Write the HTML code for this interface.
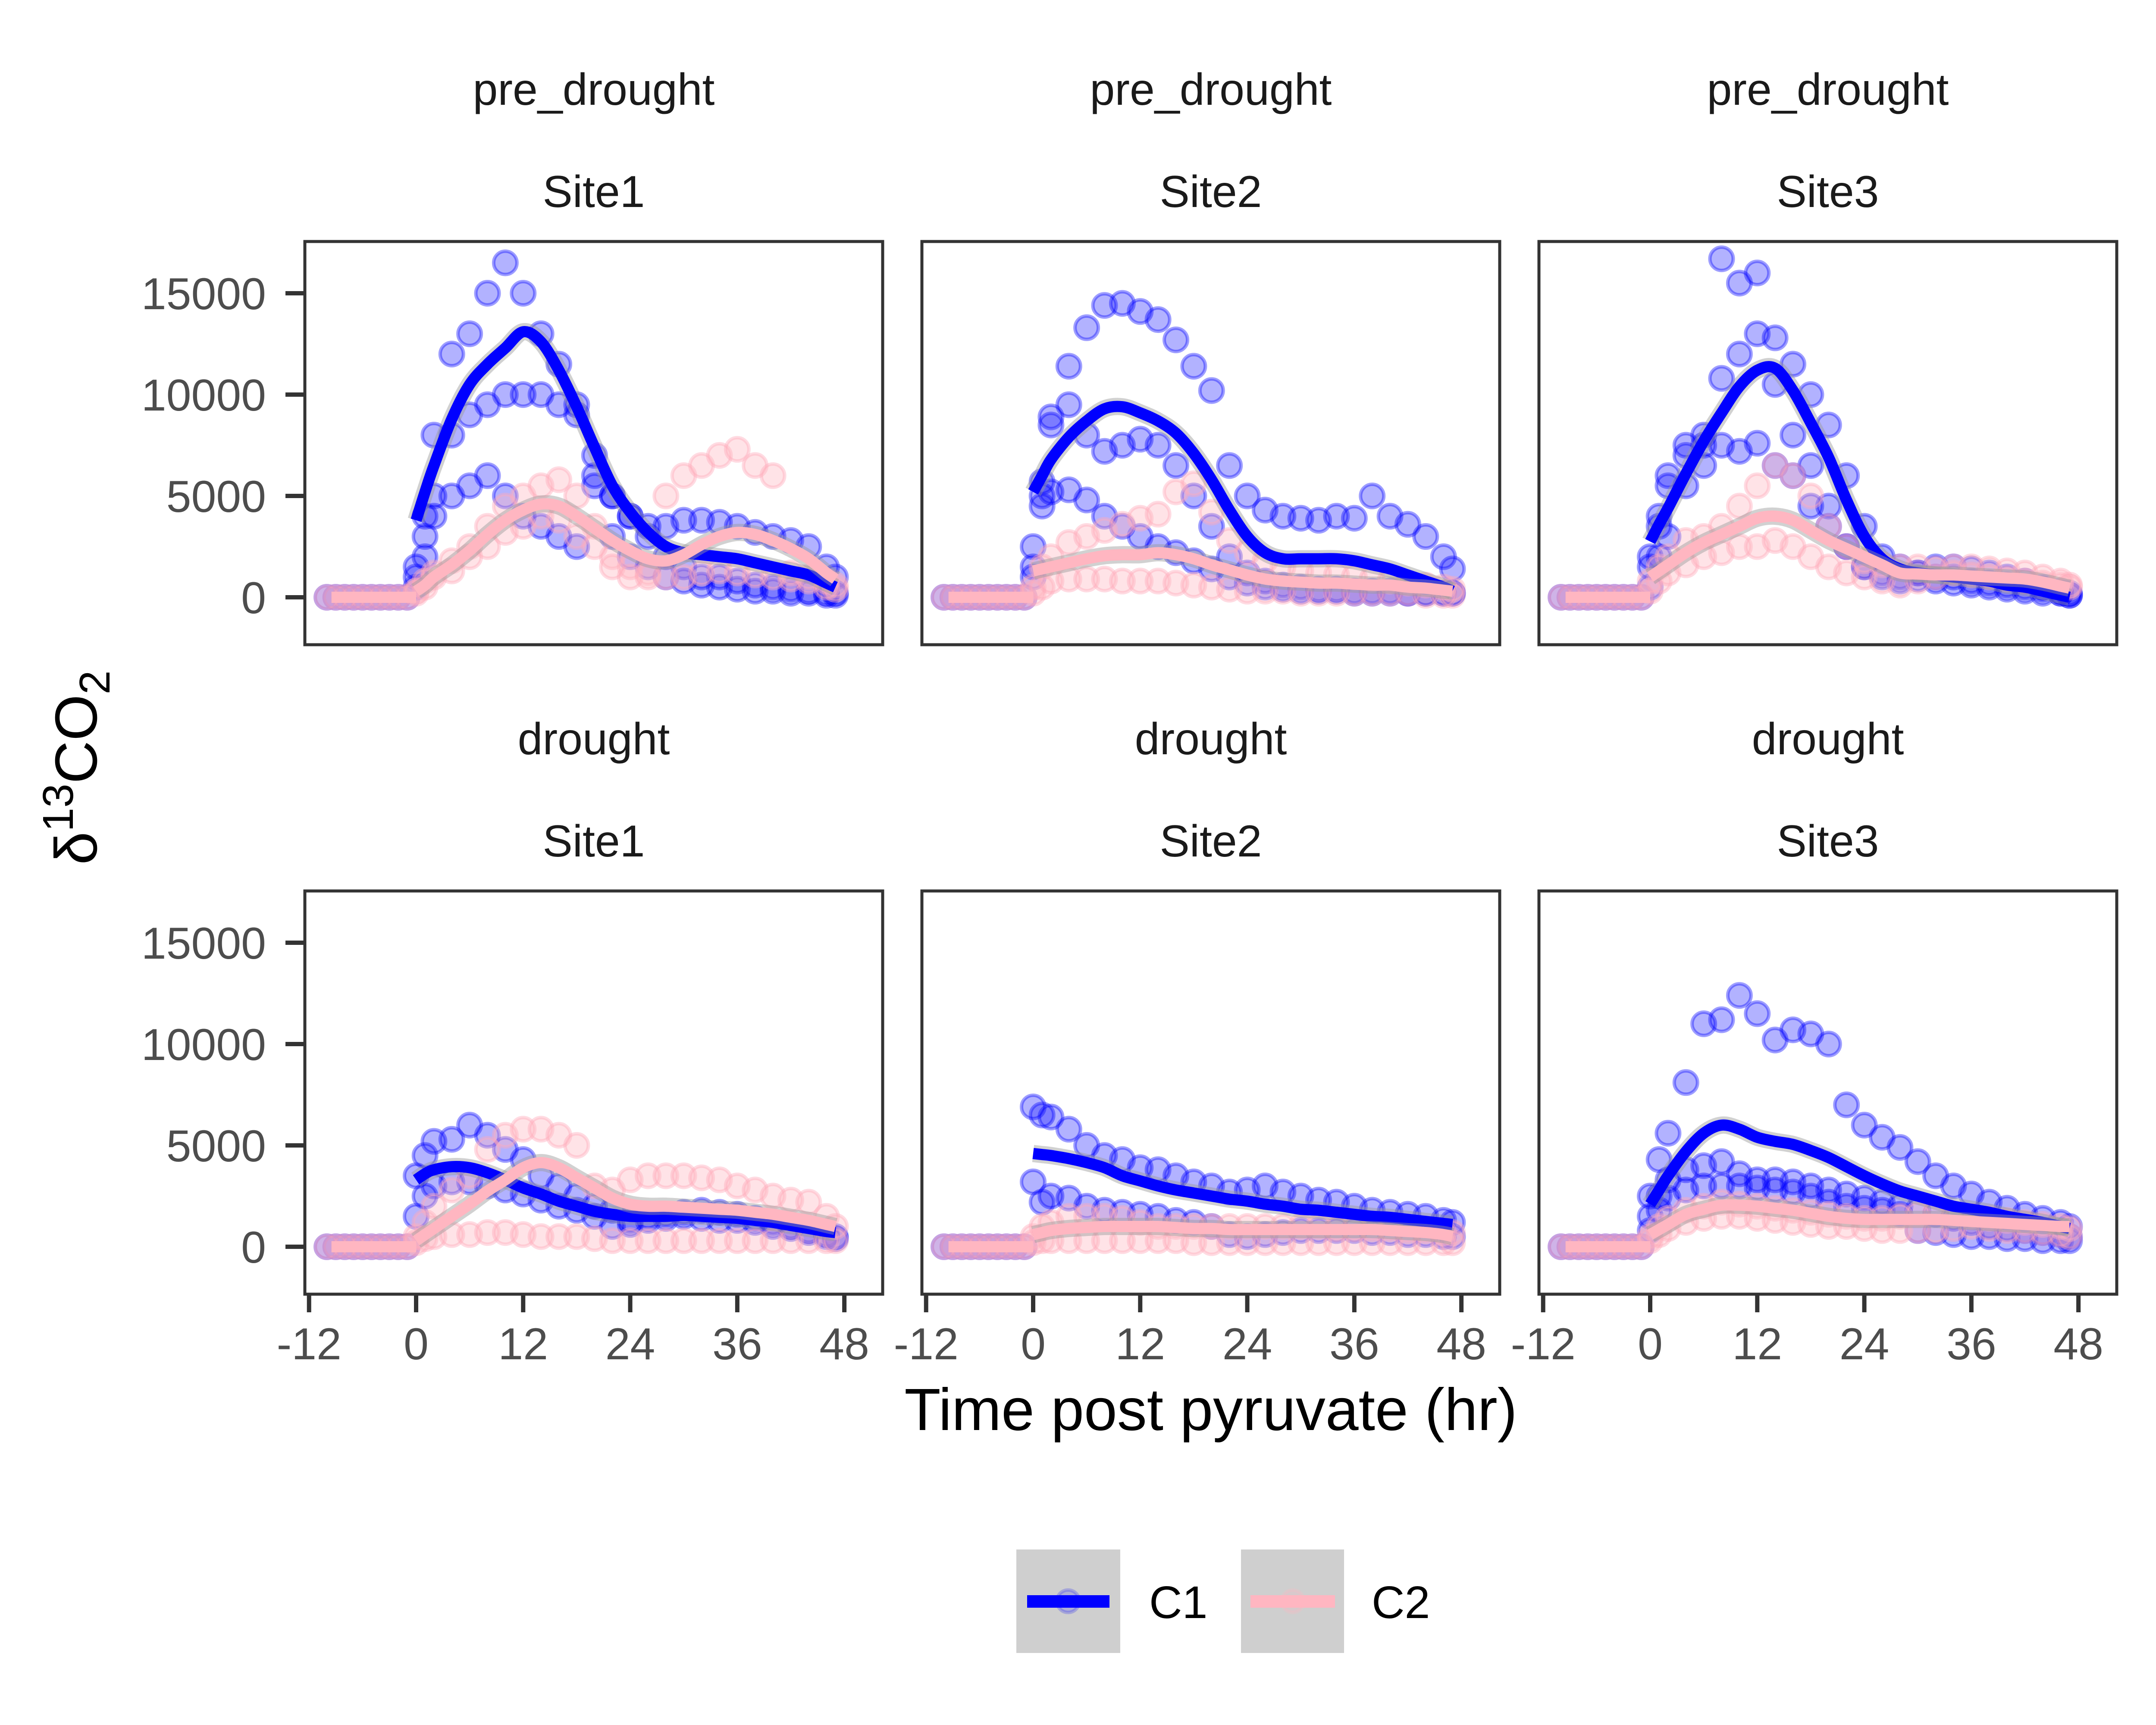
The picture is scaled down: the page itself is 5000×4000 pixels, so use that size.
<!DOCTYPE html>
<html><head><meta charset="utf-8"><style>
html,body{margin:0;padding:0;background:#fff;}
svg{display:block;font-family:"Liberation Sans",Arial,sans-serif;}
</style></head><body>
<svg id="chart" xmlns="http://www.w3.org/2000/svg" width="5000" height="4000" viewBox="0 0 5000 4000">
<rect x="0" y="0" width="5000" height="4000" fill="#fff"/>
<g id="panels"></g>
<g id="texts">
<text x="2808" y="3316" font-size="138" text-anchor="middle" fill="#000">Time post pyruvate (hr)</text>
<text transform="translate(224,1780) rotate(-90)" font-size="138" text-anchor="middle" fill="#000">δ<tspan font-size="100" dy="-55">13</tspan><tspan dy="55">CO</tspan><tspan font-size="100" dy="30">2</tspan></text>
</g>
<g id="legend">
<g>
<rect x="2357" y="3593" width="241" height="240" fill="#CFCFCF"/>
<circle cx="2477" cy="3713" r="26" fill="rgba(0,0,255,0.15)" stroke="rgba(0,0,255,0.2)" stroke-width="8"/>
<rect x="2382" y="3699" width="191" height="29" fill="#0000FF"/>
<text x="2665" y="3752" font-size="106" fill="#000">C1</text>
</g>
<g>
<rect x="2878" y="3593" width="239" height="240" fill="#CFCFCF"/>
<circle cx="2998" cy="3713" r="26" fill="rgba(255,182,193,0.2)" stroke="rgba(255,182,193,0.25)" stroke-width="8"/>
<rect x="2900" y="3699" width="196" height="29" fill="#FFB6C1"/>
<text x="3181" y="3752" font-size="106" fill="#000">C2</text>
</g>
</g>
</svg>
<script>
// time grid (hours) shared by all traces after pyruvate
const H = [0,1,2,4,6,8,10,12,14,16,18,20,22,24,26,28,30,32,34,36,38,40,42,44,46,47];
const baseT = [-10,-9,-8,-7,-6,-5,-4,-3,-2,-1];
const baseV = [0,0,0,0,0,0,0,0,0,0];
const xTicks = [-12,0,12,24,36,48];
const yTicks = [0,5000,10000,15000];
const periods = ["pre_drought","drought"];
const sites = ["Site1","Site2","Site3"];

// values in thousands
const p1c1a = [1.5,4,8,12,13,15,16.5,15,13,11.5,9.5,7,5,4,3.5,2,1.5,1,1,0.8,0.6,0.5,0.4,0.3,0.2,0.2];
const p1c1b = [1,3,5,8,9,9.5,10,10,10,9.5,9,6,3,2,1.5,1,0.8,0.6,0.5,0.4,0.3,0.3,0.2,0.2,0.1,0.1];
const p1c1c = [0.5,2,4,5,5.5,6,5,4,3.5,3,2.5,5.5,5,4,3,3.5,3.8,3.8,3.7,3.5,3.2,3,2.8,2.5,1.5,1];
const p1c2a = [0.3,0.8,1.2,1.8,2.5,3.5,4.5,5,5.5,5.8,5,3.5,2,1.5,1.2,5,6,6.5,7,7.3,6.5,6,1.2,1,0.8,0.6];
const p1c2b = [0.2,0.5,1,1.3,2,2.5,3.2,3.5,4,3.8,3,2.5,1.5,1,1,1,1,1.2,1.3,1.2,1.1,1,0.9,0.8,0.5,0.4];
const p1s1 = [3.8,5.2,6.5,8.8,10.5,11.5,12.3,13.1,12.6,11.2,9.4,7.4,5.5,4.2,3.2,2.5,2.2,2.1,2.0,1.9,1.7,1.5,1.3,1.1,0.7,0.5];
const p1s2 = [0.3,0.6,1.0,1.6,2.3,3.1,3.8,4.3,4.6,4.5,4.0,3.4,2.8,2.3,1.9,1.8,2.1,2.6,3.0,3.2,3.1,2.8,2.4,1.9,1.2,0.9];

const p2c1a = [2.5,5.7,8.9,11.4,13.3,14.4,14.5,14.1,13.7,12.7,11.4,10.2,6.5,5.0,4.3,4.0,3.9,3.8,4.0,3.9,5.0,4.0,3.6,3.0,2.0,1.4];
const p2c1b = [1.5,5.0,8.5,9.5,8.0,7.2,7.5,7.8,7.5,6.5,5.0,3.5,2.0,1.2,0.8,0.6,0.5,0.4,0.4,0.3,0.3,0.3,0.2,0.2,0.2,0.2];
const p2c1c = [1.0,4.5,5.2,5.3,4.8,4.0,3.5,3.0,2.5,2.2,1.8,1.4,1.0,0.7,0.5,0.4,0.3,0.3,0.3,0.2,0.2,0.2,0.2,0.2,0.2,0.2];
const p2c2a = [0.5,1.5,2.0,2.7,3.0,3.3,3.6,3.9,4.1,5.2,5.6,4.2,2.8,2.2,1.8,1.5,1.3,1.2,1.1,1.0,0.9,0.8,0.7,0.6,0.5,0.4];
const p2c2b = [0.2,0.5,0.8,0.9,0.9,0.9,0.8,0.8,0.8,0.7,0.6,0.5,0.4,0.3,0.3,0.3,0.2,0.2,0.2,0.2,0.2,0.2,0.2,0.1,0.1,0.1];
const p2s1 = [5.2,6.0,6.8,7.9,8.7,9.3,9.4,9.1,8.7,8.1,7.1,5.8,4.3,3.0,2.2,1.9,1.9,1.9,1.9,1.8,1.6,1.4,1.1,0.8,0.5,0.3];
const p2s2 = [1.3,1.4,1.5,1.7,1.9,2.05,2.1,2.1,2.2,2.1,1.9,1.6,1.35,1.1,0.9,0.8,0.75,0.7,0.7,0.65,0.6,0.6,0.5,0.45,0.35,0.3];

const p3c1a = [2.0,3.5,5.5,7.5,8.0,16.7,15.5,16.0,12.8,11.5,10.0,8.5,6.0,3.5,2.0,1.5,1.2,1.0,1.0,0.8,0.7,0.6,0.5,0.4,0.3,0.2];
const p3c1b = [1.5,4,6,7,7.5,10.8,12,13,10.5,8,6.5,4.5,2.5,1.5,1.2,1.0,0.9,0.8,0.7,0.6,0.5,0.4,0.3,0.2,0.2,0.1];
const p3c1c = [0.5,2,3,5.5,6.5,7.5,7.2,7.6,6.5,6,4.5,3.5,2.5,1.5,1.0,0.8,1.2,1.5,1.5,1.4,1.2,1.0,0.8,0.5,0.2,0.1];
const p3c2a = [0.8,1.5,2.0,2.8,3.0,3.5,4.5,5.5,6.5,6.0,5.0,3.5,2.5,1.8,1.6,1.5,1.5,1.4,1.5,1.5,1.4,1.3,1.2,1.0,0.8,0.6];
const p3c2b = [0.3,0.8,1.2,1.6,2,2.2,2.5,2.5,2.8,2.5,2.0,1.5,1.2,1.0,0.8,0.6,0.8,1.0,1.2,1.1,1.0,0.9,0.8,0.7,0.6,0.5];
const p3s1 = [2.75,3.6,4.4,6.1,7.7,9.1,10.4,11.2,11.3,10.2,8.6,6.9,4.8,3.0,1.9,1.4,1.2,1.1,1.0,0.9,0.8,0.6,0.5,0.3,0.1,0.0];
const p3s2 = [1.0,1.3,1.6,2.2,2.7,3.1,3.5,3.9,4.0,3.8,3.3,2.8,2.4,2.0,1.6,1.2,1.15,1.1,1.1,1.05,1.0,0.95,0.9,0.75,0.55,0.45];

const p4c1a = [3.5,4.5,5.2,5.3,6.0,5.5,4.8,4.3,3.5,3.0,2.5,2.0,1.8,1.3,1.5,1.6,1.7,1.8,1.7,1.6,1.4,1.2,1.0,0.8,0.6,0.5];
const p4c1b = [1.5,2.5,3.0,3.2,3.2,3.0,2.8,2.6,2.3,2.0,1.8,1.5,1.0,1.1,1.3,1.4,1.5,1.4,1.3,1.3,1.2,1.0,0.9,0.7,0.5,0.4];
const p4c2a = [0.5,1.2,2.0,2.8,3.5,4.8,5.5,5.8,5.8,5.5,5.0,3.0,2.8,3.3,3.5,3.5,3.5,3.4,3.3,3.0,2.8,2.5,2.3,2.2,1.5,1.0];
const p4c2b = [0.2,0.4,0.5,0.6,0.6,0.7,0.7,0.6,0.5,0.5,0.5,0.4,0.3,0.3,0.3,0.3,0.3,0.3,0.3,0.3,0.3,0.3,0.3,0.3,0.3,0.3];
const p4s1 = [3.3,3.6,3.8,3.95,3.9,3.65,3.3,2.9,2.6,2.25,2.0,1.75,1.6,1.5,1.5,1.5,1.55,1.5,1.45,1.4,1.3,1.2,1.05,0.9,0.75,0.7];
const p4s2 = [0.3,0.6,0.9,1.5,2.1,2.75,3.3,3.9,4.15,3.9,3.4,2.9,2.4,2.1,2.0,2.0,1.95,1.9,1.85,1.8,1.7,1.6,1.45,1.3,1.1,1.0];

const p5c1a = [6.9,6.5,6.4,5.8,5.0,4.5,4.3,3.9,3.8,3.5,3.2,3.0,2.7,2.8,3.0,2.7,2.5,2.3,2.2,2.0,1.8,1.7,1.6,1.5,1.3,1.2];
const p5c1b = [3.2,2.2,2.5,2.4,2.0,1.8,1.7,1.6,1.5,1.3,1.2,1.0,0.6,0.5,0.6,0.7,0.8,0.8,0.8,0.8,0.7,0.7,0.6,0.6,0.5,0.5];
const p5c2a = [0.5,1.0,1.2,1.5,1.5,1.5,1.4,1.2,1.0,1.0,1.0,1.0,1.0,1.0,1.0,1.0,1.0,1.0,0.9,0.9,0.9,0.9,0.8,0.8,0.7,0.7];
const p5c2b = [0.2,0.3,0.3,0.3,0.3,0.3,0.3,0.3,0.3,0.3,0.2,0.2,0.2,0.2,0.2,0.2,0.2,0.2,0.2,0.2,0.2,0.2,0.2,0.2,0.2,0.2];
const p5s1 = [4.6,4.55,4.5,4.35,4.15,3.9,3.5,3.25,3.0,2.8,2.65,2.5,2.35,2.25,2.1,2.0,1.85,1.8,1.7,1.6,1.5,1.45,1.35,1.25,1.15,1.1];
const p5s2 = [0.6,0.7,0.8,0.9,0.95,1.0,1.0,1.0,1.0,0.95,0.9,0.9,0.85,0.85,0.85,0.85,0.85,0.85,0.85,0.85,0.85,0.8,0.75,0.7,0.6,0.5];

const p6c1a = [2.5,4.3,5.6,8.1,11.0,11.2,12.4,11.5,10.2,10.7,10.5,10.0,7.0,6.0,5.4,4.9,4.2,3.5,3.0,2.6,2.2,1.9,1.6,1.4,1.2,1.0];
const p6c1b = [1.5,2.5,3.3,3.8,4.0,4.2,3.6,3.3,3.3,3.2,3.0,2.8,2.6,2.4,2.2,2.0,1.8,1.6,1.4,1.2,1.0,0.9,0.8,0.7,0.6,0.5];
const p6c1c = [0.8,1.8,2.4,2.8,3.0,3.0,3.0,2.9,2.8,2.7,2.5,2.2,2.0,1.9,1.8,1.6,0.8,0.7,0.6,0.5,0.5,0.4,0.4,0.3,0.3,0.3];
const p6c2a = [0.5,1.0,1.4,1.8,2.0,2.2,2.1,2.0,1.9,1.8,1.7,1.6,1.5,1.4,1.4,1.5,1.6,1.7,1.6,1.5,1.4,1.3,1.2,1.1,1.0,0.9];
const p6c2b = [0.3,0.6,0.9,1.2,1.4,1.5,1.5,1.4,1.3,1.2,1.1,1.0,1.0,0.9,0.8,0.8,0.8,0.8,0.9,1.0,0.9,0.8,0.8,0.7,0.6,0.5];
const p6s1 = [2.1,2.8,3.5,4.7,5.6,6.0,5.8,5.4,5.2,5.05,4.75,4.4,3.95,3.5,3.1,2.75,2.5,2.25,2.0,1.85,1.7,1.5,1.35,1.2,1.0,0.9];
const p6s2 = [0.6,0.85,1.1,1.6,1.85,2.05,2.05,2.0,1.9,1.8,1.65,1.5,1.4,1.35,1.35,1.35,1.35,1.35,1.3,1.25,1.2,1.15,1.1,1.05,1.0,1.0];

const panelDefs = [
  {row:0,col:0,c1:[p1c1a,p1c1b,p1c1c],c2:[p1c2a,p1c2b],s1:p1s1,s2:p1s2},
  {row:0,col:1,c1:[p2c1a,p2c1b,p2c1c],c2:[p2c2a,p2c2b],s1:p2s1,s2:p2s2},
  {row:0,col:2,c1:[p3c1a,p3c1b,p3c1c],c2:[p3c2a,p3c2b],s1:p3s1,s2:p3s2},
  {row:1,col:0,c1:[p4c1a,p4c1b],c2:[p4c2a,p4c2b],s1:p4s1,s2:p4s2},
  {row:1,col:1,c1:[p5c1a,p5c1b],c2:[p5c2a,p5c2b],s1:p5s1,s2:p5s2},
  {row:1,col:2,c1:[p6c1a,p6c1b,p6c1c],c2:[p6c2a,p6c2b],s1:p6s1,s2:p6s2}
];

const NS = "http://www.w3.org/2000/svg";
const PW = 1340, PH = 935;
function pLeft(c){ return 707 + c*1431; }
function pTop(r){ return 560 + r*1506; }
function xs(c,h){ return pLeft(c) + 258 + 20.69*h; }
function ys(r,vk){ return pTop(r) + 825 - 47*vk; }
function mk(tag, attrs, parent){
  const e = document.createElementNS(NS, tag);
  for (const k in attrs) e.setAttribute(k, attrs[k]);
  parent.appendChild(e);
  return e;
}
function smoothPath(pts){
  let d = "M" + pts[0][0].toFixed(1) + "," + pts[0][1].toFixed(1);
  for (let i=0;i<pts.length-1;i++){
    const p0 = pts[i-1]||pts[i], p1 = pts[i], p2 = pts[i+1], p3 = pts[i+2]||p2;
    const c1x = p1[0]+(p2[0]-p0[0])/6, c1y = p1[1]+(p2[1]-p0[1])/6;
    const c2x = p2[0]-(p3[0]-p1[0])/6, c2y = p2[1]-(p3[1]-p1[1])/6;
    d += " C"+c1x.toFixed(1)+","+c1y.toFixed(1)+" "+c2x.toFixed(1)+","+c2y.toFixed(1)+" "+p2[0].toFixed(1)+","+p2[1].toFixed(1);
  }
  return d;
}
const root = document.getElementById("panels");
const BLUE_F = "rgba(0,0,255,0.3)", BLUE_S = "rgba(0,0,255,0.38)";
const PINK_F = "rgba(255,182,193,0.38)", PINK_S = "rgba(255,170,185,0.42)";

panelDefs.forEach(function(p, idx){
  const g = mk("g", {}, root);
  
  
  const L = pLeft(p.col), T = pTop(p.row);
  const clipId = "clip"+idx;
  const cp = mk("clipPath", {id: clipId}, g);
  mk("rect", {x:L, y:T, width:PW, height:PH}, cp);
  const plot = mk("g", {"clip-path":"url(#"+clipId+")"}, g);
  
  

  function drawPoints(vals, fill, stroke, name){
    for (let i=0;i<vals.length;i++){
      const c = mk("circle", {cx:xs(p.col,H[i]), cy:ys(p.row,vals[i]), r:27, fill:fill, stroke:stroke, "stroke-width":8}, plot);
      
      
    }
  }
  function drawBase(fill, stroke, name){
    for (let i=0;i<baseT.length;i++){
      const c = mk("circle", {cx:xs(p.col,baseT[i]), cy:ys(p.row,baseV[i]), r:27, fill:fill, stroke:stroke, "stroke-width":8}, plot);
      
      
    }
  }
  drawBase(BLUE_F, BLUE_S, 'point-c1');
  p.c1.forEach(function(tr){ drawPoints(tr, BLUE_F, BLUE_S, 'point-c1'); });
  drawBase(PINK_F, PINK_S, 'point-c2');
  p.c2.forEach(function(tr){ drawPoints(tr, PINK_F, PINK_S, 'point-c2'); });

  function drawSmooth(vals, color, name){
    const pts = vals.map(function(v,i){ return [xs(p.col,H[i]), ys(p.row,v)]; });
    const d = smoothPath(pts);
    const band = mk("path", {d:d, fill:"none", stroke:"rgba(153,153,153,0.45)", "stroke-width":40, "stroke-linejoin":"round"}, plot);
    
    
    const ln = mk("path", {d:d, fill:"none", stroke:color, "stroke-width":26, "stroke-linejoin":"round"}, plot);
    
    
    const bl = mk("line", {x1:xs(p.col,-9.5), y1:ys(p.row,0), x2:xs(p.col,0), y2:ys(p.row,0), stroke:color, "stroke-width":26}, plot);
    
    
  }
  drawSmooth(p.s1, "#0000FF", 'smooth-line-c1');
  drawSmooth(p.s2, "#FFB6C1", 'smooth-line-c2');

  const border = mk("rect", {x:L, y:T, width:PW, height:PH, fill:"none", stroke:"#333333", "stroke-width":7}, g);
  
  

  const cx = L + PW/2;
  const s1 = mk("text", {x:cx, y:T-317, "font-size":104, "text-anchor":"middle", fill:"#1A1A1A"}, g);
  s1.textContent = periods[p.row];
  
  
  const s2 = mk("text", {x:cx, y:T-80, "font-size":104, "text-anchor":"middle", fill:"#1A1A1A"}, g);
  s2.textContent = sites[p.col];
  
  

  if (p.col === 0){
    yTicks.forEach(function(v){
      const y = ys(p.row, v/1000);
      const tk = mk("line", {x1:L-45, y1:y, x2:L, y2:y, stroke:"#333333", "stroke-width":10}, g);
      
      
      const tl = mk("text", {x:617, y:y+37, "font-size":104, "text-anchor":"end", fill:"#4D4D4D"}, g);
      tl.textContent = String(v);
      
      
    });
  }
  if (p.row === 1){
    xTicks.forEach(function(h){
      const x = xs(p.col, h);
      const tk = mk("line", {x1:x, y1:T+PH, x2:x, y2:T+PH+42, stroke:"#333333", "stroke-width":10}, g);
      
      
      const tl = mk("text", {x:x, y:3152, "font-size":104, "text-anchor":"middle", fill:"#4D4D4D"}, g);
      tl.textContent = String(h);
      
      
    });
  }
});
</script>
</body></html>
